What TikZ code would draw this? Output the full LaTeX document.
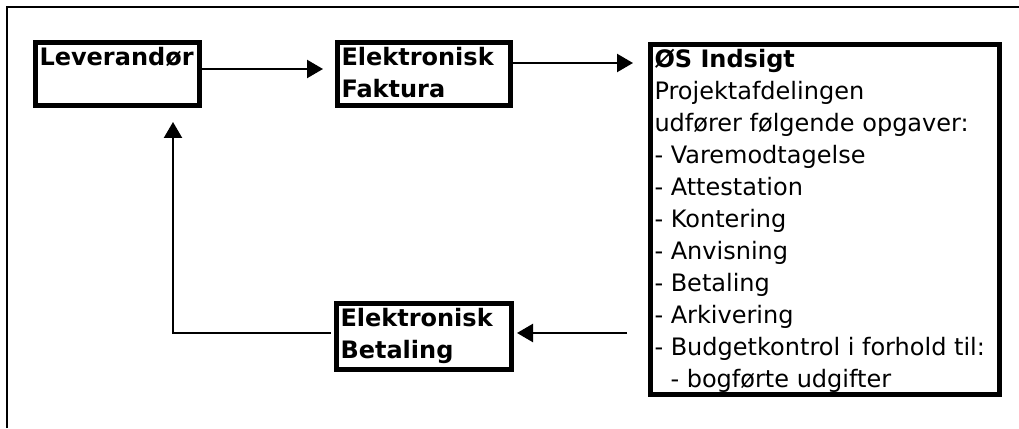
\documentclass[tikz,border=0pt]{standalone}
\usepackage{fontspec}
\setmainfont{DejaVu Sans}
\usetikzlibrary{arrows.meta,positioning}

\begin{document}
\begin{tikzpicture}[
  x=1pt,y=1pt,font=\fontsize{24pt}{32pt}\selectfont,
  box/.style={rectangle,draw=black,line width=5pt,inner xsep=4pt,inner ysep=5pt},
  frame/.style={draw=black,line width=2.6pt},
  flow/.style={-{Triangle[length=16pt,width=18pt]},line width=2.3pt,draw=black}
]
\useasboundingbox (0,0) rectangle (1019,428);
% Outer frame is cut by the page on the right and at the bottom.
\draw[frame] (7,0) -- (7,421) -- (1019,421);
\node[box] (lev) at (117.5,354) {\parbox[c][53pt][t]{156pt}{\textbf{Leverandør}}};
\node[box,right=133pt of lev] (ef) {\parbox[c][53pt][t]{165pt}{\textbf{Elektronisk}\\\textbf{Faktura}}};
\node[box,below=193pt of ef] (eb) {\parbox[c][56pt][t]{167pt}{\textbf{Elektronisk}\\\textbf{Betaling}}};
\node[box,anchor=north west] (osi) at (648,386) {\parbox[c][340pt][t]{341pt}{\textbf{ØS Indsigt}\\
  Projektafdelingen\\
  udfører følgende opgaver:\\
  - Varemodtagelse\\
  - Attestation\\
  - Kontering\\
  - Anvisning\\
  - Betaling\\
  - Arkivering\\
  - Budgetkontrol i forhold til:\\
  \hspace*{16pt}- bogførte udgifter}};
\draw[flow,shorten >=12pt] ([yshift=5pt]lev.east) -- ([yshift=5pt]ef.west);
\draw[flow,shorten >=15pt] ([yshift=11pt]ef.east) -- ([yshift=11pt]ef.east -| osi.west);
\draw[flow,shorten <=21pt,shorten >=3pt] ([yshift=3.5pt]eb.east -| osi.west) -- ([yshift=3.5pt]eb.east);
\draw[flow,shorten <=3pt,shorten >=14pt] ([yshift=3.5pt]eb.west) -| ([xshift=55.5pt]lev.south);
\end{tikzpicture}
\end{document}
